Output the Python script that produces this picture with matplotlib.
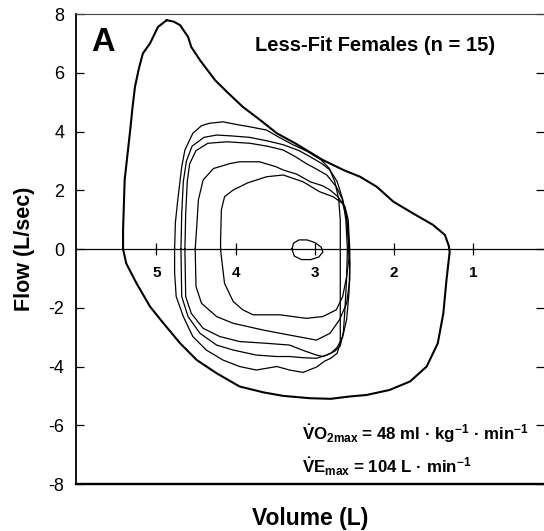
import matplotlib
matplotlib.use("Agg")
import matplotlib.pyplot as plt

plt.rcParams["font.family"] = ["Liberation Sans", "DejaVu Sans"]
plt.rcParams["mathtext.fontset"] = "custom"
plt.rcParams["mathtext.rm"] = "Liberation Sans"
plt.rcParams["mathtext.bf"] = "Liberation Sans:bold"
plt.rcParams["mathtext.it"] = "Liberation Sans:italic"
plt.rcParams["axes.unicode_minus"] = False

# Maximal flow-volume envelope (volume in L, flow in L/sec)
max_volume = [4.87, 4.78, 4.70, 4.60, 4.56, 4.45, 4.26, 4.11, 3.91, 3.69, 3.48, 3.25,
              2.90, 2.64, 2.43, 2.22, 2.01, 1.76, 1.51, 1.36, 1.31, 1.30, 1.34, 1.38,
              1.45, 1.59, 1.80, 2.06, 2.35, 2.56, 2.80, 3.06, 3.40, 3.65, 3.95, 4.24,
              4.49, 4.70, 4.91, 5.08, 5.25, 5.38, 5.42, 5.42, 5.40, 5.33, 5.30, 5.27,
              5.22, 5.17, 5.08, 4.98, 4.87]
max_flow = [7.79, 7.74, 7.62, 7.22, 6.88, 6.43, 5.75, 5.35, 4.84, 4.39, 3.94, 3.60,
            3.03, 2.69, 2.46, 2.12, 1.61, 1.21, 0.82, 0.48, 0.10, -0.10, -1.05, -2.19,
            -3.21, -4.00, -4.51, -4.80, -4.97, -5.02, -5.10, -5.08, -5.00, -4.88, -4.68, -4.23,
            -3.78, -3.21, -2.53, -1.96, -1.17, -0.49, 0.00, 0.65, 2.35, 4.05, 4.84, 5.52,
            6.15, 6.66, 7.00, 7.56, 7.79]

# Exercise tidal loops, from peak exercise down to the lightest stage
loop1_volume = [4.77, 4.76, 4.73, 4.68, 4.64, 4.54, 4.43, 4.33, 4.16, 3.95, 3.82, 3.61,
                3.45, 3.27, 3.10, 2.92, 2.82, 2.75, 2.70, 2.68, 2.68, 2.68, 2.68, 2.68,
                2.72, 2.80, 2.88, 2.98, 3.15, 3.32, 3.48, 3.74, 3.95, 4.16, 4.37, 4.54,
                4.66, 4.75, 4.77, 4.77]
loop1_flow = [0.00, 0.90, 1.67, 2.80, 3.37, 3.94, 4.20, 4.28, 4.33, 4.22, 4.16, 4.05,
              3.80, 3.54, 3.33, 3.03, 2.75, 2.30, 1.70, 1.00, 0.00, -1.50, -2.50, -3.20,
              -3.55, -3.72, -3.82, -4.02, -4.20, -4.12, -4.00, -4.12, -4.00, -3.78, -3.44, -2.98,
              -2.30, -1.62, -0.80, 0.00]

loop2_volume = [4.69, 4.68, 4.66, 4.62, 4.55, 4.40, 4.24, 4.05, 3.82, 3.60, 3.40, 3.20,
                3.06, 2.92, 2.81, 2.72, 2.65, 2.61, 2.59, 2.60, 2.62, 2.64, 2.68, 2.75,
                2.85, 2.98, 3.15, 3.32, 3.48, 3.74, 4.03, 4.24, 4.45, 4.60, 4.68, 4.69]
loop2_flow = [0.00, 1.20, 2.30, 3.00, 3.50, 3.80, 3.88, 3.85, 3.80, 3.68, 3.55, 3.35,
              3.14, 2.92, 2.69, 2.30, 1.70, 1.00, 0.00, -1.00, -2.00, -2.80, -3.30, -3.48,
              -3.61, -3.72, -3.70, -3.66, -3.66, -3.61, -3.44, -3.27, -2.87, -2.30, -1.62, 0.00]

loop3_volume = [4.64, 4.63, 4.61, 4.58, 4.50, 4.35, 4.11, 3.82, 3.60, 3.40, 3.25, 3.11,
                2.98, 2.85, 2.73, 2.65, 2.60, 2.58, 2.56, 2.57, 2.60, 2.65, 2.72, 2.80,
                2.90, 2.98, 3.15, 3.32, 3.61, 3.95, 4.20, 4.41, 4.56, 4.63, 4.64]
loop3_flow = [0.00, 1.20, 2.30, 2.90, 3.35, 3.60, 3.65, 3.60, 3.50, 3.37, 3.15, 2.91,
              2.72, 2.52, 2.12, 1.67, 1.10, 0.42, -0.50, -1.50, -2.40, -3.00, -3.35, -3.55,
              -3.66, -3.61, -3.45, -3.27, -3.21, -3.15, -2.98, -2.70, -2.19, -1.62, 0.00]

loop4_volume = [4.51, 4.49, 4.47, 4.41, 4.28, 4.07, 3.95, 3.70, 3.49, 3.40, 3.23, 3.06,
                2.90, 2.81, 2.71, 2.62, 2.58, 2.56, 2.56, 2.60, 2.69, 2.81, 2.98, 3.32,
                3.65, 4.03, 4.24, 4.43, 4.50, 4.51]
loop4_flow = [0.00, 0.80, 1.67, 2.35, 2.74, 2.91, 2.97, 2.97, 2.80, 2.69, 2.55, 2.29,
              2.15, 2.01, 1.78, 1.44, 0.99, 0.00, -1.05, -1.85, -2.41, -2.87, -3.10, -2.93,
              -2.76, -2.53, -2.30, -1.85, -1.28, 0.00]

loop5_volume = [4.19, 4.19, 4.18, 4.14, 4.03, 3.85, 3.61, 3.40, 3.15, 2.94, 2.77, 2.65,
                2.60, 2.58, 2.57, 2.60, 2.65, 2.73, 2.90, 3.11, 3.44, 3.65, 3.78, 3.91,
                4.03, 4.14, 4.18, 4.19]
loop5_flow = [0.00, 0.31, 1.33, 1.78, 2.01, 2.25, 2.46, 2.52, 2.29, 1.95, 1.78, 1.55,
              1.10, 0.42, -0.30, -0.94, -1.62, -2.07, -2.30, -2.36, -2.24, -2.24, -2.24, -2.07,
              -1.79, -1.17, -0.26, 0.00]

# Resting tidal loop
rest_volume = [3.29, 3.27, 3.20, 3.10, 3.00, 2.92, 2.90, 2.95, 3.05, 3.17, 3.26, 3.29]
rest_flow = [0.00, 0.20, 0.31, 0.31, 0.22, 0.06, -0.10, -0.27, -0.36, -0.36, -0.24, 0.00]

tidal_loops = [
    (loop1_volume, loop1_flow),
    (loop2_volume, loop2_flow),
    (loop3_volume, loop3_flow),
    (loop4_volume, loop4_flow),
    (loop5_volume, loop5_flow),
    (rest_volume, rest_flow),
]

volume_ticks = [5, 4, 3, 2, 1]
flow_ticks = [-8, -6, -4, -2, 0, 2, 4, 6, 8]

fig = plt.figure(figsize=(5.44, 5.31), dpi=100)
ax = fig.add_axes([0.1388, 0.0885, 0.8612, 0.8851])

ax.plot(max_volume, max_flow, color="black", lw=1.5, solid_joinstyle="round")
for vol, flow in tidal_loops:
    ax.plot(vol, flow, color="black", lw=0.9, solid_joinstyle="round")

ax.set_xlim(6.02, 0.11)
ax.set_ylim(-8, 8)

# volume axis runs along zero flow
ax.spines["bottom"].set_position(("data", 0))
ax.spines["bottom"].set_linewidth(0.9)
ax.spines["left"].set_linewidth(1.3)
ax.spines["top"].set_linewidth(0.8)
ax.spines["top"].set_color("#444444")
ax.spines["right"].set_visible(False)
ax.axhline(-8, color="black", lw=1.7, clip_on=False)

ax.set_xticks(volume_ticks)
ax.set_xticklabels([str(v) for v in volume_ticks], fontweight="bold")
ax.tick_params(axis="x", direction="inout", length=8, width=0.9, labelsize=11, pad=8)

ax.set_yticks(flow_ticks)
ax.tick_params(axis="y", direction="in", left=True, right=True, length=6, width=0.9,
               labelsize=13, pad=8)

ax.set_ylabel("Flow (L/sec)", fontsize=15.5, fontweight="bold")
ax.yaxis.set_label_coords(-0.086, 0.5)
ax.set_xlabel("Volume (L)", fontsize=16.5, fontweight="bold")
ax.xaxis.set_label_coords(0.5, -0.048)

ax.text(0.033, 0.921, "A", transform=ax.transAxes, fontsize=23.5, fontweight="bold",
        va="baseline", ha="left")
ax.text(0.383, 0.921, "Less-Fit Females (n = 15)", transform=ax.transAxes, fontsize=14.5,
        fontweight="bold", va="baseline", ha="left")

ax.text(0.484, 0.0936,
        r"$\mathbf{\dot{V}O}_{\mathbf{2max}}$ = 48 ml · kg$^{\mathbf{-1}}$ · min$^{\mathbf{-1}}$",
        transform=ax.transAxes, fontsize=12.2, fontweight="bold", va="baseline", ha="left")
ax.text(0.484, 0.0234,
        r"$\mathbf{\dot{V}E}_{\mathbf{max}}$ = 104 L · min$^{\mathbf{-1}}$",
        transform=ax.transAxes, fontsize=12.2, fontweight="bold", va="baseline", ha="left")

fig.savefig("out.png", dpi=100)
